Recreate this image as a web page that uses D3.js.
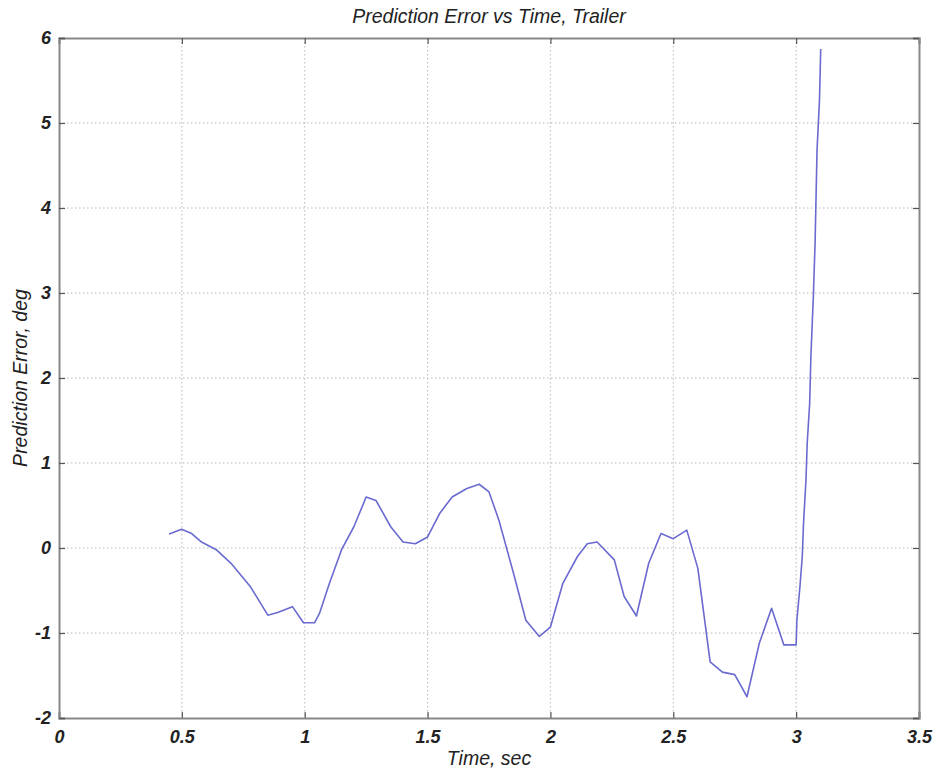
<!DOCTYPE html>
<html>
<head>
<meta charset="utf-8">
<script src="https://d3js.org/d3.v7.min.js"></script>
<style>
  body { margin: 0; background: #fff; }
  svg text { font-family: "Liberation Sans", Arial, sans-serif; font-style: italic; fill: #222; }
  .grid line { stroke: #b8b8b8; stroke-dasharray: 1.5 2.5; }
</style>
</head>
<body>
<svg id="chart" width="939" height="773"></svg>
<script>
// time (sec) and prediction error (deg)
const timeSec = [
  0.448, 0.499, 0.54, 0.58, 0.64, 0.70, 0.78, 0.85, 0.89, 0.95, 0.995, 1.04, 1.06,
  1.10, 1.15, 1.20, 1.25, 1.29, 1.35, 1.40, 1.45, 1.50, 1.55, 1.60, 1.66, 1.71, 1.75,
  1.79, 1.85, 1.90, 1.955, 2.0, 2.05, 2.11, 2.15, 2.19, 2.26, 2.30, 2.35, 2.40, 2.45,
  2.50, 2.555, 2.60, 2.65, 2.70, 2.75, 2.80, 2.85, 2.90, 2.95, 3.0, 3.003, 3.015,
  3.025, 3.03, 3.04, 3.045, 3.055, 3.06, 3.07, 3.077, 3.085, 3.095, 3.10
];
const errorDeg = [
  0.165, 0.22, 0.17, 0.07, -0.02, -0.18, -0.46, -0.79, -0.76, -0.69, -0.88, -0.88, -0.77,
  -0.42, -0.02, 0.25, 0.60, 0.56, 0.25, 0.07, 0.05, 0.13, 0.41, 0.60, 0.70, 0.75, 0.66,
  0.33, -0.30, -0.85, -1.04, -0.93, -0.42, -0.10, 0.05, 0.07, -0.14, -0.57, -0.80, -0.18, 0.17,
  0.11, 0.21, -0.24, -1.34, -1.46, -1.49, -1.75, -1.12, -0.71, -1.14, -1.14, -0.85, -0.47,
  -0.10, 0.29, 0.80, 1.23, 1.70, 2.25, 2.96, 3.58, 4.68, 5.27, 5.87
];
const xTicks = [0, 0.5, 1, 1.5, 2, 2.5, 3, 3.5];
const yTicks = [-2, -1, 0, 1, 2, 3, 4, 5, 6];

const margin = { top: 38, right: 20, bottom: 55, left: 59 };
const width = 939, height = 773;
const svg = d3.select('#chart');

const x = d3.scaleLinear().domain([0, 3.5]).range([margin.left, width - margin.right]);
const y = d3.scaleLinear().domain([-2, 6]).range([height - margin.bottom, margin.top]);

// grid
const grid = svg.append('g').attr('class', 'grid');
grid.selectAll('.vx').data(xTicks.slice(1, -1)).enter().append('line')
  .attr('x1', d => x(d)).attr('x2', d => x(d))
  .attr('y1', y(6)).attr('y2', y(-2));
grid.selectAll('.hy').data(yTicks.slice(1, -1)).enter().append('line')
  .attr('x1', x(0)).attr('x2', x(3.5))
  .attr('y1', d => y(d)).attr('y2', d => y(d));

// axes with inward ticks on all sides (plain hyphen for negatives, like the original)
const tickLen = 6;
const fmt = d => String(d);
const axBottom = svg.append('g').attr('transform', `translate(0,${y(-2)})`)
  .call(d3.axisBottom(x).tickValues(xTicks).tickSize(-tickLen).tickPadding(12).tickFormat(fmt));
const axTop = svg.append('g').attr('transform', `translate(0,${y(6)})`)
  .call(d3.axisTop(x).tickValues(xTicks).tickSize(-tickLen).tickFormat(''));
const axLeft = svg.append('g').attr('transform', `translate(${x(0)},0)`)
  .call(d3.axisLeft(y).tickValues(yTicks).tickSize(-tickLen).tickPadding(8).tickFormat(fmt));
const axRight = svg.append('g').attr('transform', `translate(${x(3.5)},0)`)
  .call(d3.axisRight(y).tickValues(yTicks).tickSize(-tickLen).tickFormat(''));

[axBottom, axTop, axLeft, axRight].forEach(a => {
  a.select('.domain').attr('stroke', '#888').attr('stroke-width', 2);
  a.selectAll('.tick line').attr('stroke', '#555').attr('stroke-width', 1.2);
  a.selectAll('.tick text')
    .style('font-family', '"Liberation Sans", Arial, sans-serif')
    .style('font-style', 'italic').style('font-weight', 'bold')
    .attr('font-size', 18).attr('fill', '#333');
});
axLeft.selectAll('.tick text').attr('dy', '0.32em');
axBottom.selectAll('.tick text').attr('dy', '0.71em');

// data line
const line = d3.line().x(d => x(d[0])).y(d => y(d[1]));
svg.append('path')
  .datum(d3.zip(timeSec, errorDeg))
  .attr('fill', 'none')
  .attr('stroke', '#6a6ad0')
  .attr('stroke-width', 1.6)
  .attr('stroke-linejoin', 'round')
  .attr('d', line);

// labels
svg.append('text').attr('x', (x(0) + x(3.5)) / 2).attr('y', 23)
  .attr('text-anchor', 'middle').attr('font-size', 19.5)
  .text('Prediction Error vs Time, Trailer');
svg.append('text').attr('x', (x(0) + x(3.5)) / 2).attr('y', 765)
  .attr('text-anchor', 'middle').attr('font-size', 19.5)
  .text('Time, sec');
svg.append('text')
  .attr('transform', `translate(27,${(y(6) + y(-2)) / 2}) rotate(-90)`)
  .attr('text-anchor', 'middle').attr('font-size', 19.5)
  .text('Prediction Error, deg');
</script>
</body>
</html>
